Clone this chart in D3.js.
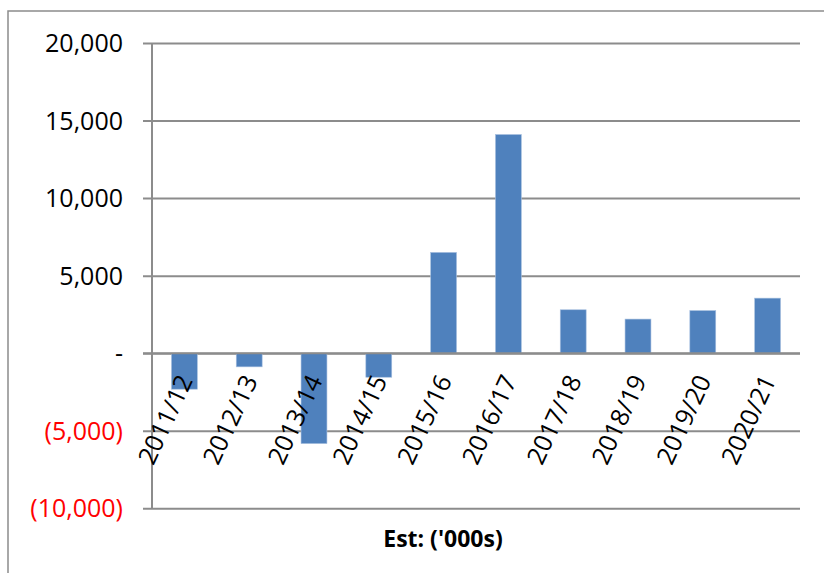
<!DOCTYPE html>
<html>
<head>
<meta charset="utf-8">
<script src="https://cdn.jsdelivr.net/npm/d3@7"></script>
<style>
  html, body { margin: 0; padding: 0; background: #fff; }
  svg { display: block; }
</style>
</head>
<body>
<svg id="chart" width="824" height="573"></svg>
<script>
// Annual net change, thousands
const categories = ["2011/12", "2012/13", "2013/14", "2014/15", "2015/16",
                    "2016/17", "2017/18", "2018/19", "2019/20", "2020/21"];
const values = [-2320, -880, -5830, -1550, 6500, 14100, 2800, 2200, 2750, 3550];
const yTicks = [-10000, -5000, 0, 5000, 10000, 15000, 20000];
const axisTitle = "Est: ('000s)";

(function () {
  const svg = d3.select("#chart");
  const fontFamily = "'Open Sans', 'Liberation Sans', sans-serif";
  const gridColor = "#8c8c8c";

  // outer frame of the chart area
  svg.append("rect")
    .attr("x", 8).attr("y", 11)
    .attr("width", 900).attr("height", 700)
    .attr("fill", "none")
    .attr("stroke", gridColor)
    .attr("stroke-width", 1.5);

  const plotLeft = 152, plotRight = 800, plotTop = 43, plotBottom = 508.3;

  const y = d3.scaleLinear().domain([-10000, 20000]).range([plotBottom, plotTop]);
  const x = d3.scaleBand().domain(categories).range([plotLeft, plotRight])
    .paddingInner(0.6).paddingOuter(0.3);

  const fmt = d3.format(",");
  const tickLabel = v => v === 0 ? "-" : (v < 0 ? "(" + fmt(-v) + ")" : fmt(v));

  // horizontal gridlines with left tick stubs
  const yAxis = d3.axisLeft(y).tickValues(yTicks)
    .tickSize(-(plotRight - plotLeft)).tickFormat(tickLabel);
  const gy = svg.append("g").attr("transform", `translate(${plotLeft},0)`).call(yAxis);
  gy.select(".domain").remove();
  gy.selectAll(".tick line")
    .attr("x1", -9)
    .attr("stroke", gridColor)
    .attr("stroke-width", 2);
  gy.selectAll(".tick text")
    .attr("x", -29)
    .attr("dy", "0.34em")
    .attr("font-family", fontFamily)
    .attr("font-size", 25)
    .attr("fill", d => d < 0 ? "#ff0000" : "#000");

  // bars
  svg.append("g").selectAll("rect")
    .data(values)
    .join("rect")
    .attr("x", (d, i) => x(categories[i]))
    .attr("width", x.bandwidth())
    .attr("y", d => y(Math.max(0, d)))
    .attr("height", d => Math.abs(y(d) - y(0)))
    .attr("fill", "#4f81bd")
    .attr("stroke", "#a9c1e0")
    .attr("stroke-width", 0.6);

  // vertical axis line
  svg.append("line")
    .attr("x1", plotLeft).attr("x2", plotLeft)
    .attr("y1", plotTop).attr("y2", plotBottom)
    .attr("stroke", gridColor).attr("stroke-width", 2);

  // redraw the zero line over the bars
  svg.append("line")
    .attr("x1", plotLeft - 9).attr("x2", plotRight)
    .attr("y1", y(0)).attr("y2", y(0))
    .attr("stroke", gridColor).attr("stroke-width", 2);

  // category labels, rotated, hanging from the zero line
  svg.append("g").selectAll("text")
    .data(categories)
    .join("text")
    .attr("transform", d => `translate(${x(d) + x.bandwidth() / 2 + 9},${y(0) + 27}) rotate(-65)`)
    .attr("text-anchor", "end")
    .attr("font-family", fontFamily)
    .attr("font-size", 25)
    .attr("fill", "#000")
    .text(d => d);

  // axis title
  svg.append("text")
    .attr("x", 443).attr("y", 547)
    .attr("text-anchor", "middle")
    .attr("font-family", fontFamily)
    .attr("font-size", 23)
    .attr("font-weight", "bold")
    .attr("fill", "#000")
    .text(axisTitle);
})();
</script>
</body>
</html>
